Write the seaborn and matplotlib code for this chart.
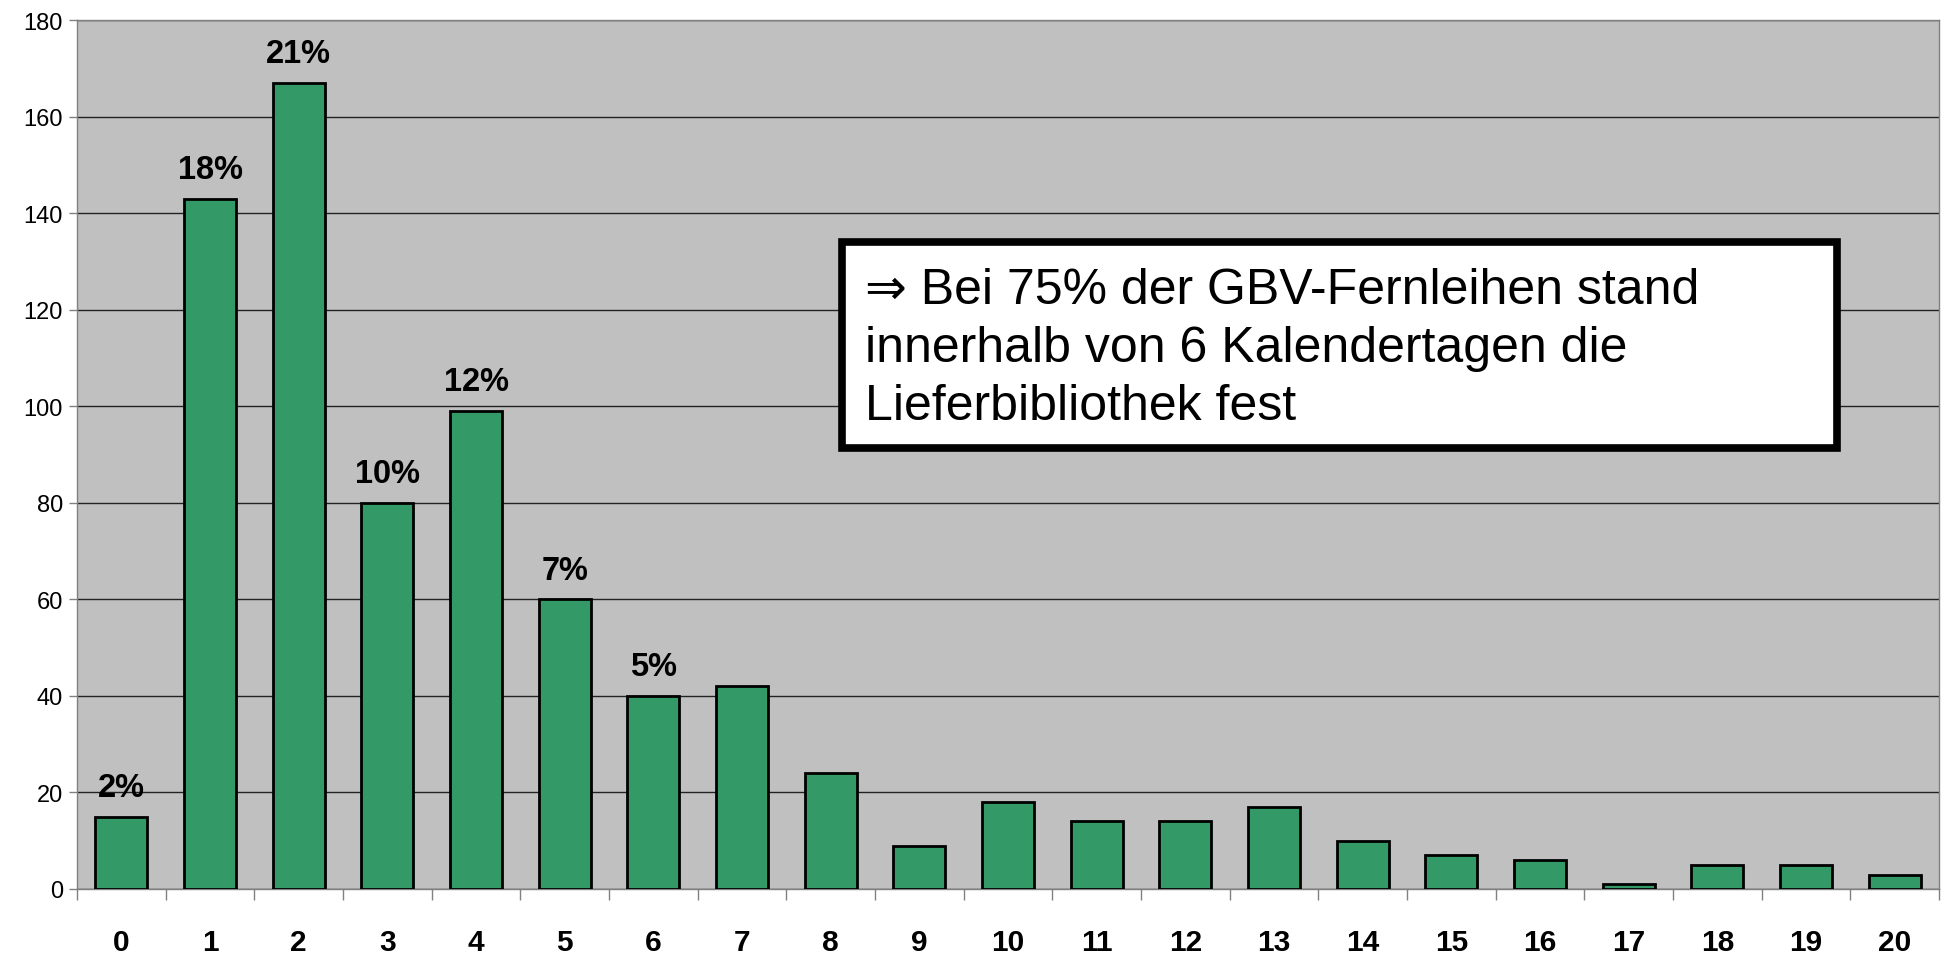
import matplotlib
matplotlib.use("Agg")
import matplotlib.pyplot as plt
import seaborn as sns
from matplotlib.patches import Rectangle

# ---------------- data ----------------
days = [str(d) for d in range(21)]
counts = [15, 143, 167, 80, 99, 60, 40, 42, 24, 9, 18, 14, 14, 17, 10, 7, 6, 1, 5, 5, 3]
pct_labels = ["2%", "18%", "21%", "10%", "12%", "7%", "5%"]
note = "\u21d2 Bei 75% der GBV-Fernleihen stand\ninnerhalb von 6 Kalendertagen die\nLieferbibliothek fest"

# ---------------- plot ----------------
sns.set_style("white")
plt.rcParams["font.family"] = ["Liberation Sans", "DejaVu Sans"]
plt.rcParams["text.color"] = "black"
plt.rcParams["xtick.labelcolor"] = "black"
plt.rcParams["ytick.labelcolor"] = "black"

fig = plt.figure(figsize=(19.42, 9.54), dpi=100)
ax = fig.add_axes([77 / 1942, 1 - 890 / 954, 1862 / 1942, 869 / 954])
ax.set_facecolor("#c0c0c0")

sns.barplot(x=days, y=counts, order=days, color="#339966", saturation=1,
            edgecolor="black", linewidth=2, width=0.59, ax=ax, zorder=3)

ax.set_ylim(0, 180)
ax.set_xlim(-0.5, 20.5)
ax.set_yticks(range(0, 181, 20))
ax.yaxis.grid(True, color="#222222", linewidth=1, zorder=0)
ax.set_axisbelow(True)
ax.set_xlabel("")
ax.set_ylabel("")

# y ticks
ax.tick_params(axis="y", labelsize=17, length=6, width=1, color="#808080", pad=4, left=True)
# x: labels centered, ticks between categories
ax.set_xticks(range(21))
ax.set_xticklabels(days, fontsize=21.5, fontweight="bold")
ax.tick_params(axis="x", length=0, pad=28)
ax.set_xticks([i - 0.5 for i in range(22)], minor=True)
ax.tick_params(axis="x", which="minor", length=8, width=1, color="#808080", bottom=True)

for s in ax.spines.values():
    s.set_color("#808080")
    s.set_linewidth(1)

for i, lab in enumerate(pct_labels):
    ax.annotate(lab, (i, counts[i]), xytext=(0, 15), textcoords="offset points",
                ha="center", va="baseline", fontsize=23.5, fontweight="bold", zorder=5)

# note box
box = Rectangle((0.411, 0.507), 0.534, 0.237, transform=ax.transAxes,
                facecolor="white", edgecolor="black", linewidth=5.5, zorder=6)
ax.add_patch(box)
ax.text(0.423, 0.716, note, transform=ax.transAxes, ha="left", va="top",
        fontsize=36, linespacing=1.33, zorder=7,
        family=["Liberation Sans", "DejaVu Sans"])

plt.savefig("out.png", dpi=100)
